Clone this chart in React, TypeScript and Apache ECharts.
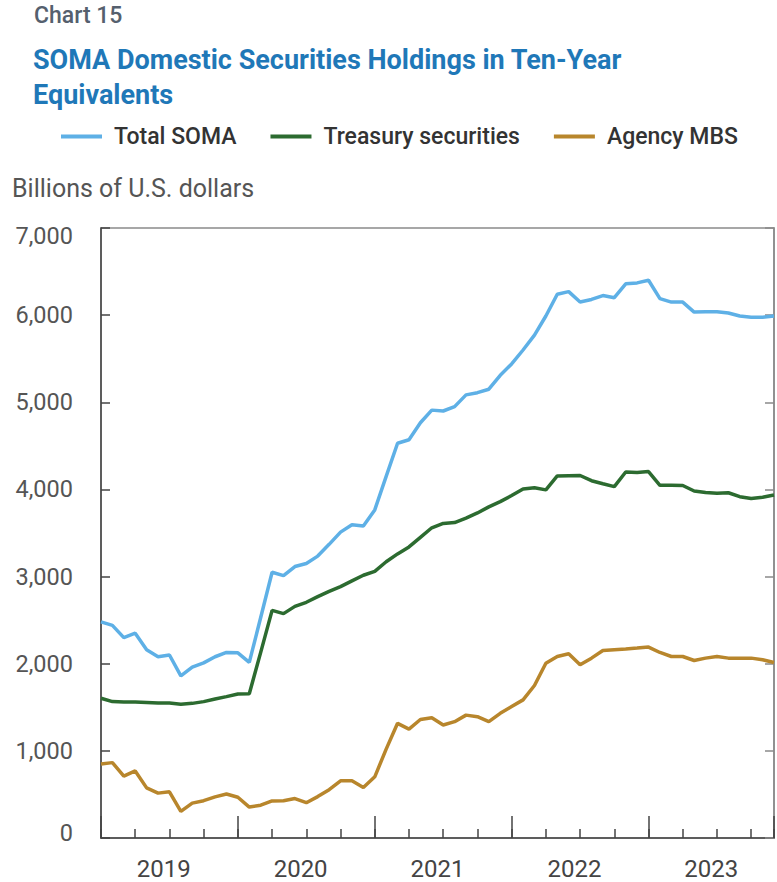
import React, { useEffect, useRef } from "react";
import * as echarts from "echarts";

// ---- Data (monthly, Jan 2019 .. Dec 2023), billions of U.S. dollars ----
const yearLabels = ["2019", "2020", "2021", "2022", "2023"];
const yTickLabels = ["0", "1,000", "2,000", "3,000", "4,000", "5,000", "6,000", "7,000"];

const totalSoma = [
  2480, 2440, 2300, 2350, 2160, 2080, 2100, 1860, 1960, 2010, 2080, 2130,
  2125, 2015, 2530, 3050, 3010, 3115, 3150, 3235, 3370, 3510, 3595, 3580,
  3765, 4150, 4530, 4570, 4765, 4910, 4900, 4950, 5085, 5110, 5150, 5310,
  5440, 5600, 5770, 5990, 6240, 6270, 6150, 6180, 6225, 6200, 6360, 6370,
  6400, 6190, 6150, 6150, 6035, 6040, 6040, 6025, 5990, 5975, 5975, 5990,
];
const treasury = [
  1604, 1565, 1562, 1560, 1555, 1550, 1548, 1536, 1545, 1565, 1595, 1622,
  1652, 1655, 2130, 2612, 2575, 2658, 2705, 2770, 2830, 2885, 2950, 3015,
  3060, 3170, 3260, 3340, 3450, 3560, 3610, 3620, 3670, 3730, 3800, 3860,
  3930, 4005, 4020, 3995, 4155, 4158, 4160, 4100, 4065, 4032, 4200, 4195,
  4205, 4047, 4047, 4045, 3982, 3965, 3955, 3962, 3917, 3895, 3910, 3935,
];
const agencyMbs = [
  850, 865, 710, 770, 575, 515, 530, 305, 400, 428, 472, 505,
  468, 355, 376, 426, 428, 453, 405, 475, 555, 656, 656, 580,
  702, 1020, 1316, 1250, 1360, 1380, 1297, 1335, 1410, 1392, 1335, 1431,
  1508, 1585, 1750, 2005, 2083, 2114, 1987, 2064, 2152, 2160, 2168, 2179,
  2191, 2129, 2083, 2083, 2037, 2064, 2083, 2064, 2064, 2064, 2045, 2014,
];

const seriesNames = ["Total SOMA", "Treasury securities", "Agency MBS"];
const seriesColors = ["#5eb0e6", "#2c6b30", "#b8862c"];

const FONT = "Roboto";

export default function App() {
  const ref = useRef<HTMLDivElement | null>(null);

  useEffect(() => {
    if (!ref.current) return;
    const chart = echarts.init(ref.current, undefined, { renderer: "svg" });
    const lastIdx = totalSoma.length - 1;
    const toPairs = (arr: number[]) => arr.map((v, i) => [i, v]);
    const allData = [totalSoma, treasury, agencyMbs];

    const axisColor = "#444";
    const frameColor = "#8a8a8a";

    const option: any = {
      animation: false,
      textStyle: { fontFamily: FONT },
      title: [
        {
          text: "Chart 15",
          left: 34,
          top: 4,
          padding: 0,
          textStyle: { fontFamily: FONT, fontSize: 23, fontWeight: 500, color: "#55606e" },
        },
        {
          text: "SOMA Domestic Securities Holdings in Ten-Year\nEquivalents",
          left: 33,
          top: 42,
          padding: 0,
          textStyle: { fontFamily: FONT, fontSize: 27, fontWeight: "bold", color: "#1f78b8", lineHeight: 35 },
        },
        {
          text: "Billions of U.S. dollars",
          left: 12,
          top: 176,
          padding: 0,
          textStyle: { fontFamily: FONT, fontSize: 25, fontWeight: 400, color: "#555" },
        },
      ],
      legend: {
        left: 61,
        top: 125,
        padding: 0,
        icon: "rect",
        itemWidth: 41,
        itemHeight: 4,
        itemGap: 34,
        data: seriesNames,
        textStyle: { fontFamily: FONT, fontSize: 23, fontWeight: 500, color: "#333", padding: [0, 0, 0, 7] },
      },
      grid: {
        left: 101,
        right: 3,
        top: 228,
        bottom: 44,
        show: true,
        borderColor: frameColor,
        borderWidth: 1.5,
      },
      xAxis: [
        {
          type: "value",
          position: "bottom",
          min: 0,
          max: lastIdx,
          interval: 3,
          axisLine: { show: true, onZero: false, lineStyle: { color: axisColor, width: 1.5 } },
          axisTick: { show: true, inside: true, length: 9, lineStyle: { color: axisColor, width: 1.5 } },
          axisLabel: { show: false },
          splitLine: { show: false },
        },
        {
          type: "value",
          position: "bottom",
          min: 0,
          max: lastIdx,
          interval: 12,
          axisLine: { show: false, onZero: false },
          axisTick: { show: true, inside: true, length: 22, lineStyle: { color: axisColor, width: 1.5 } },
          axisLabel: { show: false },
          splitLine: { show: false },
        },
        {
          type: "value",
          position: "bottom",
          min: 0,
          max: lastIdx,
          interval: 0.5,
          axisLine: { show: false, onZero: false },
          axisTick: { show: false },
          axisLabel: {
            show: true,
            margin: 20,
            fontFamily: FONT,
            fontSize: 24,
            lineHeight: 22,
            color: "#444",
            formatter: (v: number) => {
              const r = v % 12;
              return Math.abs(r - 5.5) < 1e-6 ? yearLabels[Math.floor(v / 12)] || "" : "";
            },
          },
          splitLine: { show: false },
        },
      ],
      yAxis: [
        {
          type: "value",
          position: "left",
          min: 0,
          max: 7000,
          interval: 1000,
          axisLine: { show: true, onZero: false, lineStyle: { color: axisColor, width: 1.5 } },
          axisTick: { show: true, inside: true, length: 9, lineStyle: { color: axisColor, width: 1.5 } },
          axisLabel: {
            margin: 28,
            fontFamily: FONT,
            fontSize: 23.5,
            color: "#555",
            formatter: (v: number) => {
              const t = yTickLabels[Math.round(v / 1000)] || "";
              if (v === 7000) return "{t|" + t + "}";
              if (v === 0) return "{b|" + t + "}";
              return t;
            },
            rich: {
              t: { fontFamily: FONT, fontSize: 23.5, color: "#555", padding: [16, 0, 0, 0] },
              b: { fontFamily: FONT, fontSize: 23.5, color: "#555", padding: [0, 0, 10, 0] },
            },
          },
          splitLine: { show: false },
        },
        {
          type: "value",
          position: "right",
          min: 0,
          max: 7000,
          interval: 1000,
          axisLine: { show: true, onZero: false, lineStyle: { color: frameColor, width: 1.5 } },
          axisTick: { show: true, inside: true, length: 9, lineStyle: { color: frameColor, width: 1.5 } },
          axisLabel: { show: false },
          splitLine: { show: false },
        },
      ],
      series: seriesNames.map((name, k) => ({
        name,
        type: "line",
        xAxisIndex: 0,
        yAxisIndex: 0,
        data: toPairs(allData[k]),
        showSymbol: false,
        symbol: "none",
        color: seriesColors[k],
        lineStyle: { color: seriesColors[k], width: 3.5 },
        z: 3 - k,
      })),
    };
    chart.setOption(option);
    return () => chart.dispose();
  }, []);

  return (
    <div
      ref={ref}
      style={{ position: "absolute", left: 0, top: 0, width: 777, height: 882, background: "#fff" }}
    />
  );
}
